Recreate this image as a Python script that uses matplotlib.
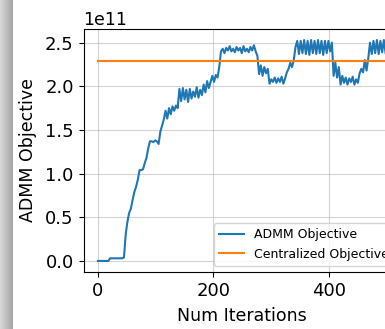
import numpy as np
import matplotlib
matplotlib.use("Agg")
import matplotlib.pyplot as plt
from matplotlib.ticker import MultipleLocator

# ADMM objective (units of 1e11), sampled every 3 iterations
step = 3
warmup = [0.0, 0.0, 0.0, 0.0, 0.0, 0.0, 0.0,
          0.03, 0.03, 0.03, 0.03, 0.03, 0.03, 0.03, 0.03]
climb = [0.04, 0.30, 0.45, 0.55, 0.60, 0.70, 0.79, 0.85, 0.93, 1.04, 1.04, 1.05,
         1.12, 1.18, 1.29, 1.37, 1.37, 1.36, 1.38, 1.37, 1.34, 1.48, 1.55, 1.62,
         1.72, 1.63, 1.75, 1.68, 1.77, 1.72, 1.78, 1.75, 1.97, 1.83, 1.98, 1.85,
         1.96, 1.82, 1.97, 1.86, 1.94, 1.88, 1.99, 1.87, 1.96, 1.90, 2.02, 1.93,
         2.06, 1.98, 2.05, 2.12, 2.05, 2.13, 2.10, 2.22]
plateau1 = [2.40, 2.43, 2.38, 2.44, 2.41, 2.46, 2.40, 2.43, 2.39, 2.45, 2.41, 2.44,
            2.38, 2.46, 2.40, 2.43, 2.39, 2.45, 2.41, 2.47, 2.40, 2.35]
dip1 = [2.14, 2.24, 2.12, 2.22, 2.15, 2.20, 2.03, 2.08, 2.05, 2.10, 2.04, 2.09,
        2.05, 2.11, 2.03, 2.09, 2.16, 2.20, 2.27, 2.22, 2.30]
plateau2 = [2.45, 2.52, 2.37, 2.52, 2.38, 2.53, 2.37, 2.52, 2.36, 2.53, 2.38, 2.52,
            2.37, 2.53, 2.38, 2.52, 2.36, 2.52, 2.38, 2.52, 2.40, 2.50]
dip2 = [2.12, 2.27, 2.10, 2.22, 2.02, 2.12, 2.04, 2.10, 2.02, 2.09, 2.05, 2.11,
        2.02, 2.08, 2.04, 2.15, 2.20, 2.16, 2.30, 2.18, 2.32]
plateau3 = [2.50, 2.37, 2.52, 2.38, 2.53, 2.37, 2.52, 2.39, 2.53, 2.38]

admm = np.array(warmup + climb + plateau1 + dip1 + plateau2 + dip2 + plateau3) * 1e11
iters = np.arange(len(admm)) * step
centralized = 2.29e11

fig = plt.figure(figsize=(3.85, 3.29), dpi=100)

# grey shadow strip at the left edge of the screenshot
strip = fig.add_axes([0, 0, 13 / 385, 1])
strip.imshow(np.linspace(0.85, 0.64, 64)[None, :], cmap="gray", vmin=0, vmax=1,
             aspect="auto", extent=[0, 1, 0, 1])
strip.axis("off")

ax = fig.add_axes([0.2171, 0.1733, 0.8218, 0.7386])
ax.plot(iters, admm, label="ADMM Objective")
ax.plot(iters, np.full(len(iters), centralized), label="Centralized Objective")
ax.set_xlabel("Num Iterations", fontsize=12.5, labelpad=5)
ax.set_ylabel("ADMM Objective", fontsize=12.5, labelpad=6)
ax.xaxis.set_major_locator(MultipleLocator(200))
ax.tick_params(labelsize=13)
ax.yaxis.get_offset_text().set_fontsize(12.5)
ax.grid(True, alpha=0.55)
ax.legend(loc="lower right", fontsize=9)

fig.savefig("out.png", dpi=100)
